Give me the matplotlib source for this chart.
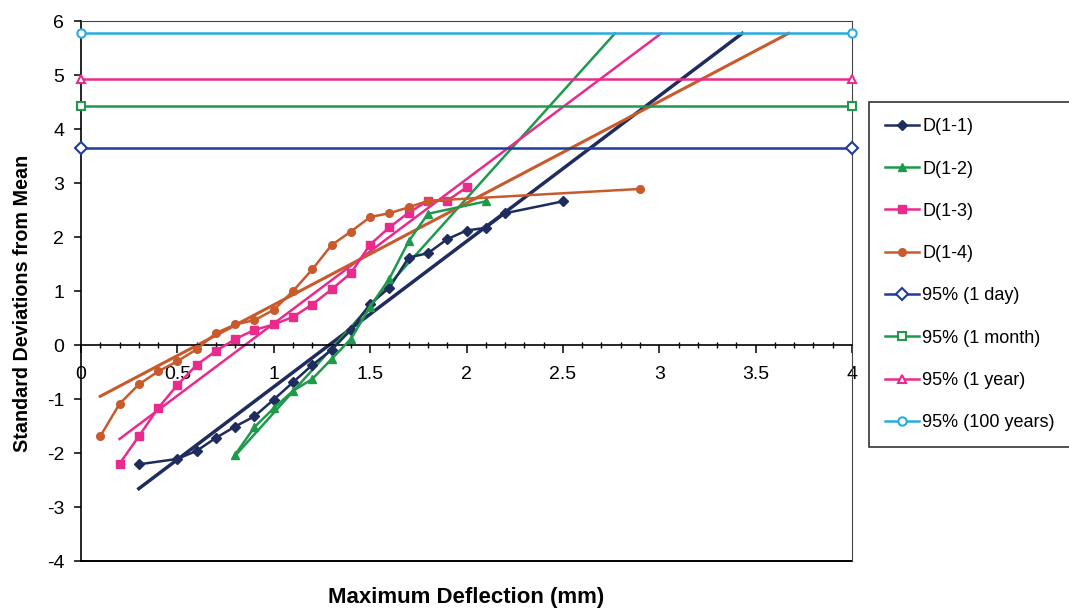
import numpy as np
import matplotlib.pyplot as plt
from matplotlib.ticker import MultipleLocator

plt.rcParams['font.family'] = ['Liberation Sans', 'DejaVu Sans']
plt.rcParams['axes.unicode_minus'] = False

# Данные
d11_x = [0.3, 0.5, 0.6, 0.7, 0.8, 0.9, 1.0, 1.1, 1.2, 1.3, 1.4, 1.5, 1.6, 1.7, 1.8, 1.9, 2.0, 2.1, 2.2, 2.5]
d11_y = [-2.21, -2.11, -1.96, -1.72, -1.51, -1.32, -1.01, -0.69, -0.37, -0.09, 0.28, 0.76, 1.06, 1.62,
         1.70, 1.96, 2.12, 2.17, 2.44, 2.66]

d12_x = [0.8, 0.9, 1.0, 1.1, 1.2, 1.3, 1.4, 1.5, 1.6, 1.7, 1.8, 2.1]
d12_y = [-2.03, -1.52, -1.17, -0.85, -0.63, -0.26, 0.11, 0.71, 1.23, 1.92, 2.43, 2.66]

d13_x = [0.2, 0.3, 0.4, 0.5, 0.6, 0.7, 0.8, 0.9, 1.0, 1.1, 1.2, 1.3, 1.4, 1.5, 1.6, 1.7, 1.8, 1.9, 2.0]
d13_y = [-2.20, -1.69, -1.17, -0.74, -0.37, -0.11, 0.11, 0.28, 0.38, 0.52, 0.75, 1.03, 1.33, 1.86,
         2.18, 2.45, 2.67, 2.67, 2.92]

d14_x = [0.1, 0.2, 0.3, 0.4, 0.5, 0.6, 0.7, 0.8, 0.9, 1.0, 1.1, 1.2, 1.3, 1.4, 1.5, 1.6, 1.7, 1.8, 2.9]
d14_y = [-1.69, -1.09, -0.73, -0.49, -0.30, -0.08, 0.22, 0.38, 0.46, 0.65, 1.00, 1.40, 1.85, 2.10,
         2.37, 2.44, 2.55, 2.67, 2.89]

# Линии тренда (концы)
fit11_x, fit11_y = [0.3, 3.43], [-2.66, 5.77]
fit12_x, fit12_y = [0.8, 2.77], [-2.05, 5.77]
fit13_x, fit13_y = [0.2, 3.01], [-1.74, 5.77]
fit14_x, fit14_y = [0.1, 3.67], [-0.95, 5.77]

# Уровни 95%
level_x = [0, 4]
level_names = ['95% (1 day)', '95% (1 month)', '95% (1 year)', '95% (100 years)']
level_y = [3.64, 4.42, 4.93, 5.77]

c_navy = '#1f2c5e'
c_green = '#1e9a4c'
c_pink = '#ea2a8c'
c_orange = '#c85a2c'
c_blue = '#203c9a'
c_cyan = '#28acde'

fig = plt.figure(figsize=(10.69, 6.13), dpi=100)
ax = fig.add_axes([81 / 1069, 1 - 561 / 613, (852 - 81) / 1069, (561 - 21) / 613])

# Линии тренда
ax.plot(fit11_x, fit11_y, color=c_navy, lw=2.5, zorder=2)
ax.plot(fit12_x, fit12_y, color=c_green, lw=1.8, zorder=2)
ax.plot(fit13_x, fit13_y, color=c_pink, lw=1.8, zorder=2)
ax.plot(fit14_x, fit14_y, color=c_orange, lw=2.2, zorder=2)

# Измерения
ax.plot(d11_x, d11_y, '-D', color=c_navy, lw=1.8, ms=5.5, label='D(1-1)', zorder=3)
ax.plot(d12_x, d12_y, '-^', color=c_green, lw=1.8, ms=6, label='D(1-2)', zorder=3)
ax.plot(d13_x, d13_y, '-s', color=c_pink, lw=1.8, ms=5.5, label='D(1-3)', zorder=3)
ax.plot(d14_x, d14_y, '-o', color=c_orange, lw=1.8, ms=5.5, label='D(1-4)', zorder=3)

# Горизонтальные уровни
for yv, name, col, mk in zip(level_y, level_names, [c_blue, c_green, c_pink, c_cyan], ['D', 's', '^', 'o']):
    ax.plot(level_x, [yv, yv], '-', marker=mk, color=col, lw=1.8, ms=6, mfc='white', mew=1.5,
            label=name, clip_on=False, zorder=3)

ax.set_xlim(0, 4)
ax.set_ylim(-4, 6)

# Ось X проходит через y = 0
ax.spines['bottom'].set_position(('data', 0))
ax.spines['bottom'].set_linewidth(1.2)
ax.spines['left'].set_linewidth(1.2)
ax.spines['top'].set_color('#444444')
ax.spines['right'].set_color('#444444')
ax.axhline(-4, color='black', lw=1.4, clip_on=False)

ax.xaxis.set_minor_locator(MultipleLocator(0.1))
ax.yaxis.set_major_locator(MultipleLocator(1))
ax.set_xticks([0, 0.5, 1, 1.5, 2, 2.5, 3, 3.5, 4])
ax.set_xticklabels(['0', '0.5', '1', '1.5', '2', '2.5', '3', '3.5', '4'])
ax.tick_params(axis='x', which='major', direction='out', length=6, width=1.1, labelsize=14, pad=9)
ax.tick_params(axis='x', which='minor', direction='inout', length=5, width=1.0)
ax.tick_params(axis='y', which='major', direction='out', length=5, width=1.1, labelsize=14, pad=7)

ax.set_ylabel('Standard Deviations from Mean', fontsize=14.2, fontweight='bold')
ax.yaxis.set_label_coords(-0.063, 0.478)
fig.text(466 / 1069, 1 - 598 / 613, 'Maximum Deflection (mm)', fontsize=16, fontweight='bold',
         ha='center', va='center')

leg = fig.legend(loc='upper left', bbox_to_anchor=(869 / 1069, 1 - 102 / 613), fontsize=13,
                 frameon=True, fancybox=False, edgecolor='black', labelspacing=1.4,
                 handlelength=1.85, handletextpad=0.2, borderpad=0.9, borderaxespad=0)
leg.get_frame().set_linewidth(1.2)

fig.savefig('out.png', dpi=100)
